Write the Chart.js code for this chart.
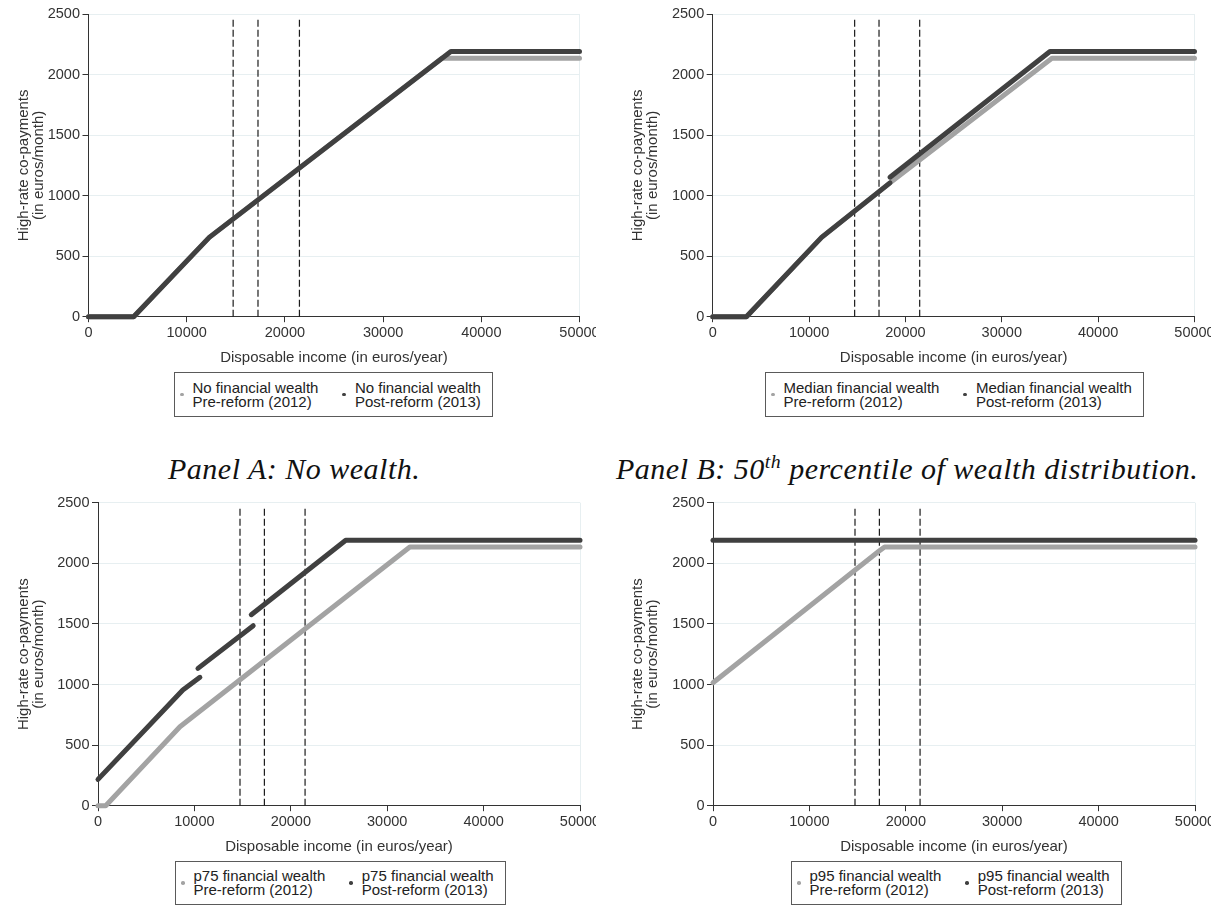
<!DOCTYPE html>
<html>
<head>
<meta charset="utf-8">
<script src="https://cdn.jsdelivr.net/npm/chart.js@4.4.0/dist/chart.umd.min.js"></script>
<style>
html,body{margin:0;padding:0;background:#fff;}
body{width:1220px;height:906px;position:relative;overflow:hidden;font-family:"Liberation Sans",Arial,sans-serif;}
.wrap{position:absolute;overflow:hidden;}
.wrap canvas{position:absolute;left:0;top:0;}
.legend{position:absolute;border:1px solid #5a5a5a;box-sizing:border-box;height:45px;display:flex;align-items:center;padding:0 11px 0 5px;font-size:15px;line-height:14px;color:#222;white-space:nowrap;background:#fff;}
.item{display:flex;align-items:center;}
.item + .item{margin-left:24px;}
.dot{width:3.5px;height:3.5px;border-radius:50%;margin-right:9px;flex:none;}
.caption{position:absolute;font-family:"Liberation Serif","DejaVu Serif",serif;font-style:italic;font-size:30px;line-height:30px;letter-spacing:0.5px;color:#111;white-space:nowrap;}
.caption sup{font-size:0.66em;line-height:0;vertical-align:0.55em;}
</style>
</head>
<body>
<script>
// ---------- data ----------
const xTicks = [0, 10000, 20000, 30000, 40000, 50000];
const yTicks = [0, 500, 1000, 1500, 2000, 2500];
const thresholds = [14730, 17260, 21480];
const thresholdTop = 2470;
const seriesLabels = ['Pre-reform (2012)', 'Post-reform (2013)'];
const groupLabels = ['No financial wealth', 'Median financial wealth', 'p75 financial wealth', 'p95 financial wealth'];

const incomeA_pre  = [0, 4600, 12300, 36000, 50000];
const copayA_pre   = [0, 0, 655, 2135, 2135];
const incomeA_post = [0, 4600, 12300, 36900, 50000];
const copayA_post  = [0, 0, 655, 2190, 2190];

const incomeB_pre  = [0, 3500, 11300, 18400, 35200, 50000];
const copayB_pre   = [0, 0, 655, 1105, 2135, 2135];
const incomeB_post = [0, 3500, 11300, 18400, 18400, 18400, 35000, 50000];
const copayB_post  = [0, 0, 655, 1105, null, 1152, 2190, 2190];

const incomeC_pre  = [0, 800, 8500, 32350, 50000];
const copayC_pre   = [0, 0, 652, 2135, 2135];
const incomeC_post = [0, 8800, 10570, 10500, 10370, 16100, 16000, 15900, 25700, 50000];
const copayC_post  = [217, 954, 1059, null, 1133, 1485, null, 1576, 2190, 2190];

const incomeD_pre  = [0, 17200, 17800, 50000];
const copayD_pre   = [1015, 2100, 2135, 2135];
const incomeD_post = [0, 50000];
const copayD_post  = [2190, 2190];

// ---------- styling / layout ----------
const DARK = '#404040', GREY = '#a3a3a3', GRID = '#e7eff1', AXIS = '#333333';
const FAM = '"Liberation Sans", Arial, sans-serif';

const panels = [
  {L:0,   T:0,   WW:596, CW:610, H:372, area:{left:88.5, top:14,    right:579.5,  bottom:316.7}, tPad:16,
   preX:incomeA_pre, preY:copayA_pre, postX:incomeA_post, postY:copayA_post, group:groupLabels[0],
   legend:{left:174, top:372, h:45}},
  {L:610, T:0,   WW:601, CW:615, H:372, area:{left:712.7, top:14,   right:1194.5, bottom:316.7}, tPad:20,
   preX:incomeB_pre, preY:copayB_pre, postX:incomeB_post, postY:copayB_post, group:groupLabels[1],
   legend:{left:765, top:372, h:45}},
  {L:0,   T:489, WW:596, CW:610, H:372, area:{left:98,   top:502.7, right:580,    bottom:805.7}, tPad:16,
   preX:incomeC_pre, preY:copayC_pre, postX:incomeC_post, postY:copayC_post, group:groupLabels[2],
   legend:{left:175, top:861, h:44}},
  {L:610, T:489, WW:601, CW:615, H:372, area:{left:713,  top:502.7, right:1195,   bottom:805.7}, tPad:20,
   preX:incomeD_pre, preY:copayD_pre, postX:incomeD_post, postY:copayD_post, group:groupLabels[3],
   legend:{left:791, top:861, h:44}}
];

const toPts = (xs, ys) => xs.map((x, i) => ({x: x, y: ys[i]}));
const lineBase = {pointRadius:0, pointHoverRadius:0, fill:false, tension:0, spanGaps:false, clip:false,
                  borderCapStyle:'round', borderJoinStyle:'round'};

function makePanel(p) {
  const wrap = document.createElement('div');
  wrap.className = 'wrap';
  Object.assign(wrap.style, {left:p.L + 'px', top:p.T + 'px', width:p.WW + 'px', height:p.H + 'px'});
  const cv = document.createElement('canvas');
  cv.width = p.CW; cv.height = p.H;
  cv.style.width = p.CW + 'px'; cv.style.height = p.H + 'px';
  wrap.appendChild(cv);
  document.body.appendChild(wrap);

  const yW = p.area.left - p.L;
  const xH = p.H - (p.area.bottom - p.T);
  const padTop = p.area.top - p.T;
  const padRight = p.CW - (p.area.right - p.L);
  const xTitleCenter = p.area.bottom + 41.3 - p.T;
  const xTitlePadBottom = p.H - xTitleCenter - 7.5;

  const datasets = [
    Object.assign({label: seriesLabels[1], data: toPts(p.postX, p.postY), borderColor: DARK, borderWidth: 5, order: 0}, lineBase),
    Object.assign({label: seriesLabels[0], data: toPts(p.preX, p.preY), borderColor: GREY, borderWidth: 5, order: 1}, lineBase)
  ];
  thresholds.forEach(t => {
    datasets.push(Object.assign({}, lineBase, {
      label: 'threshold', data: [{x: t, y: 0}, {x: t, y: thresholdTop}],
      borderColor: '#1c1c1c', borderWidth: 1.2, borderDash: [7, 3], borderCapStyle: 'butt', order: 2
    }));
  });

  new Chart(cv, {
    type: 'line',
    data: {datasets: datasets},
    options: {
      responsive: false, animation: false, devicePixelRatio: 1,
      events: [],
      layout: {padding: {left: 0, top: padTop, right: padRight, bottom: 0}},
      plugins: {legend: {display: false}, tooltip: {enabled: false}},
      scales: {
        x: {
          type: 'linear', min: 0, max: 50000,
          afterBuildTicks: ax => { ax.ticks = xTicks.map(v => ({value: v})); },
          afterFit: ax => { ax.height = xH; },
          ticks: {callback: v => String(v), font: {family: FAM, size: 14.5}, color: AXIS, padding: 2, maxRotation: 0, autoSkip: false},
          grid: {color: c => (c.tick && c.tick.value === 50000) ? GRID : 'rgba(0,0,0,0)', tickColor: AXIS, tickLength: 5.5, lineWidth: 1},
          border: {color: AXIS, width: 1},
          title: {display: true, text: 'Disposable income (in euros/year)', color: AXIS,
                  font: {family: FAM, size: 15, lineHeight: 1}, padding: {top: 0, bottom: xTitlePadBottom}}
        },
        y: {
          type: 'linear', min: 0, max: 2500,
          afterBuildTicks: ax => { ax.ticks = yTicks.map(v => ({value: v})); },
          afterFit: ax => { ax.width = yW; },
          ticks: {callback: v => String(v), font: {family: FAM, size: 14.5}, color: AXIS, padding: 2.5, autoSkip: false},
          grid: {color: c => (c.tick && c.tick.value === 0) ? 'rgba(0,0,0,0)' : GRID, tickColor: AXIS, tickLength: 6, lineWidth: 1},
          border: {color: AXIS, width: 1},
          title: {display: true, text: ['High-rate co-payments', '(in euros/month)'], color: AXIS,
                  font: {family: FAM, size: 15, lineHeight: 1}, padding: {top: p.tPad, bottom: 0}}
        }
      }
    }
  });

  const lg = document.createElement('div');
  lg.className = 'legend';
  Object.assign(lg.style, {left: p.legend.left + 'px', top: p.legend.top + 'px', height: p.legend.h + 'px'});
  [[GREY, seriesLabels[0]], [DARK, seriesLabels[1]]].forEach(([col, lab]) => {
    const it = document.createElement('div'); it.className = 'item';
    const d = document.createElement('span'); d.className = 'dot'; d.style.background = col;
    const tx = document.createElement('div'); tx.innerHTML = p.group + '<br>' + lab;
    it.appendChild(d); it.appendChild(tx); lg.appendChild(it);
  });
  document.body.appendChild(lg);
}

panels.forEach(makePanel);

const capA = document.createElement('div');
capA.className = 'caption';
capA.style.left = '168px'; capA.style.top = '454px';
capA.textContent = 'Panel A: No wealth.';
document.body.appendChild(capA);

const capB = document.createElement('div');
capB.className = 'caption';
capB.style.left = '616px'; capB.style.top = '454px';
capB.innerHTML = 'Panel B: 50<sup>th</sup> percentile of wealth distribution.';
document.body.appendChild(capB);
</script>
</body>
</html>
